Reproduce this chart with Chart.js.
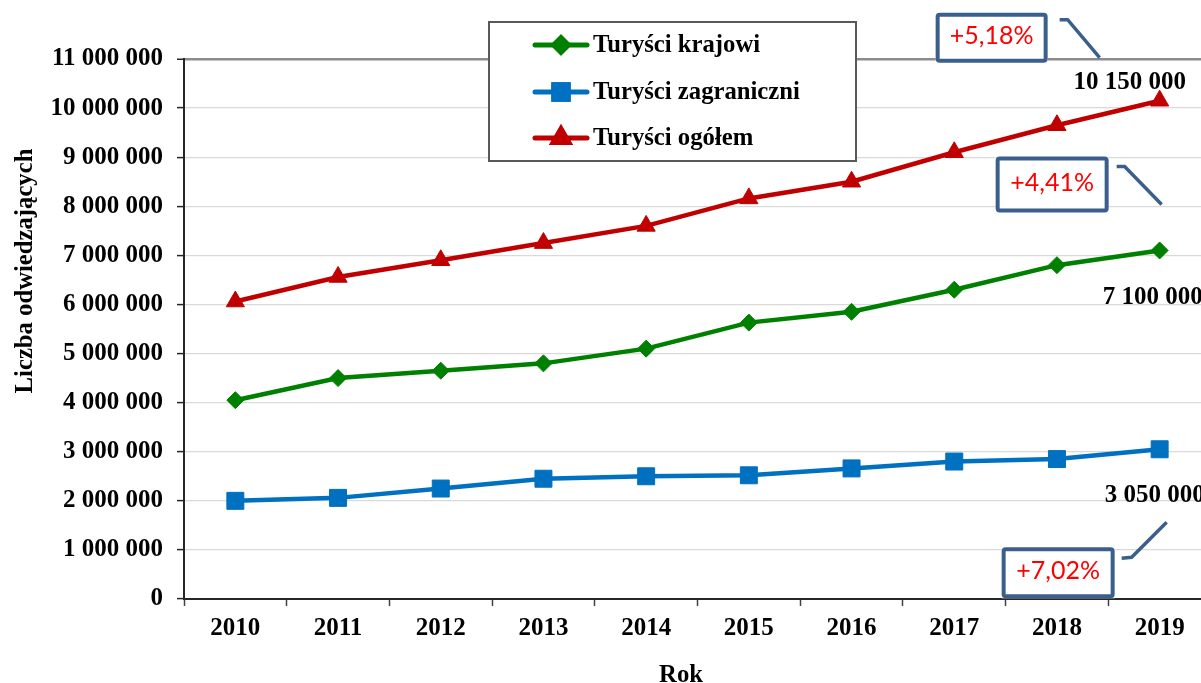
<!DOCTYPE html>
<html><head><meta charset="utf-8">
<script src="https://cdn.jsdelivr.net/npm/chart.js@4.4.1/dist/chart.umd.min.js"></script>
<style>html,body{margin:0;padding:0;overflow:hidden;background:#fff;width:1201px;height:683px}canvas{display:block}</style>
</head><body><canvas id="c" width="1230" height="683" style="width:1230px;height:683px"></canvas>
<script>
const years = ['2010','2011','2012','2013','2014','2015','2016','2017','2018','2019'];
const krajowi = [4050000,4500000,4650000,4800000,5100000,5630000,5850000,6300000,6800000,7100000];
const zagraniczni = [2000000,2060000,2250000,2450000,2500000,2520000,2660000,2800000,2850000,3050000];
const ogolem = [6060000,6560000,6900000,7250000,7600000,8160000,8500000,9100000,9650000,10150000];
const yTickValues = [0,1000000,2000000,3000000,4000000,5000000,6000000,7000000,8000000,9000000,10000000,11000000];
const seriesNames = ['Turyści krajowi','Turyści zagraniczni','Turyści ogółem'];
const growthLabels = ['+4,41%','+7,02%','+5,18%'];
const xTitle = 'Rok';
const yTitle = 'Liczba odwiedzających';

const fmt = v => String(Math.round(v)).replace(/\B(?=(\d{3})+(?!\d))/g, ' ');
const SERIF = '"Liberation Serif","Times New Roman",serif';
const COLORS = ['#008000','#0070c0','#c00000'];
const STYLES = ['rectRot','rect','triangle'];
const RADII = [8.5,12,10.5];

// callout placement relative to last point of each series (style only)
const callouts = [
  {box:[-164,-94,113,56], line:[[-43,-84],[-35,-84],[2,-46]], lbl:[-7,47]},
  {box:[-158,98,113,51], line:[[-38,109],[-28,108],[7,73]], lbl:[-5,46]},
  {box:[-224,-88,112,50], line:[[-100,-81],[-92,-81],[-60,-43]], lbl:[-30,-18]}
];

const overlay = {
  id:'overlay',
  afterDraw(chart){
    const ctx = chart.ctx;
    ctx.save();
    // Legend box
    ctx.fillStyle = '#fff';
    ctx.fillRect(488,21,369,141);
    ctx.strokeStyle = '#595959'; ctx.lineWidth = 2;
    ctx.strokeRect(489,22,367,139);
    const rows = [45,92,138];
    chart.data.datasets.forEach((ds,i)=>{
      const y = rows[i];
      ctx.strokeStyle = ds.borderColor; ctx.lineWidth = 5; ctx.lineCap='round';
      ctx.beginPath(); ctx.moveTo(535,y); ctx.lineTo(587,y); ctx.stroke();
      Chart.helpers.drawPoint(ctx,{pointStyle:ds.pointStyle,rotation:0,borderWidth:1,radius:ds.pointRadius*0.85},561,y);
      ctx.fillStyle = ds.borderColor; ctx.strokeStyle = ds.borderColor;
      ctx.beginPath();
      Chart.helpers.drawPoint(ctx,{pointStyle:ds.pointStyle,rotation:0,borderWidth:1,radius:ds.pointRadius*0.85},561,y);
      ctx.fillStyle = '#000'; ctx.font = 'bold 24.7px '+SERIF;
      ctx.textAlign='left'; ctx.textBaseline='middle';
      ctx.fillText(ds.label,593,y+1);
    });
    // Axis titles
    ctx.fillStyle='#000'; ctx.font='bold 24.7px '+SERIF;
    ctx.textAlign='center'; ctx.textBaseline='alphabetic';
    ctx.fillText(xTitle,681,682);
    ctx.save(); ctx.translate(32,271); ctx.rotate(-Math.PI/2);
    ctx.fillText(yTitle,0,0); ctx.restore();
    // Callouts and value labels
    chart.data.datasets.forEach((ds,i)=>{
      const meta = chart.getDatasetMeta(i);
      const last = meta.data[meta.data.length-1];
      const px = last.x, py = last.y, c = callouts[i];
      const val = ds.data[ds.data.length-1];
      ctx.fillStyle='#000'; ctx.font='bold 25px '+SERIF;
      ctx.textAlign='center'; ctx.textBaseline='middle';
      ctx.fillText(fmt(val), px+c.lbl[0], py+c.lbl[1]);
      const [bx,by,bw,bh] = c.box;
      const L = px+bx, T = py+by;
      ctx.fillStyle='#fff'; ctx.fillRect(L,T,bw,bh);
      ctx.strokeStyle='#3b5f8c'; ctx.lineWidth=4; ctx.lineJoin='round'; ctx.lineCap='butt';
      ctx.beginPath(); ctx.roundRect(L+2,T+2,bw-4,bh-4,2); ctx.stroke();
      ctx.fillStyle='#ff0000'; ctx.font='25px Lato, "Liberation Sans", sans-serif';
      ctx.fillText(growthLabels[i], L+bw/2, T+bh/2-2);
      ctx.strokeStyle='#3b5f8c'; ctx.lineWidth=3.5; ctx.lineJoin='miter';
      ctx.beginPath();
      c.line.forEach((p,k)=>{ if(k===0) ctx.moveTo(px+p[0],py+p[1]); else ctx.lineTo(px+p[0],py+p[1]); });
      ctx.stroke();
    });
    ctx.restore();
  }
};

const mk = (i,data) => ({
  label: seriesNames[i], data,
  borderColor: COLORS[i], backgroundColor: COLORS[i],
  pointBackgroundColor: COLORS[i], pointBorderColor: COLORS[i],
  borderWidth: 4.5, pointStyle: STYLES[i], pointRadius: RADII[i], pointBorderWidth: 1,
  tension: 0, clip: false
});

new Chart(document.getElementById('c'), {
  type:'line',
  data:{ labels: years, datasets:[ mk(0,krajowi), mk(1,zagraniczni), mk(2,ogolem) ] },
  options:{
    responsive:false, animation:false,
    layout:{ padding:{ left:0, right:19, top:59, bottom:0 } },
    plugins:{ legend:{display:false}, tooltip:{enabled:false} },
    scales:{
      x:{
        offset:true,
        grid:{ offset:true, drawOnChartArea:false, tickLength:7, tickColor:'#404040', tickWidth:1.5 },
        border:{ color:'#262626', width:2 },
        ticks:{ color:'#000', font:{family:SERIF, weight:'bold', size:25}, padding:8, maxRotation:0, autoSkip:false },
        afterFit(s){ s.height = 84; }
      },
      y:{
        min: yTickValues[0], max: yTickValues[yTickValues.length-1],
        afterBuildTicks(s){ s.ticks = yTickValues.map(v=>({value:v})); },
        grid:{
          color: c => c.tick && c.tick.value === yTickValues[yTickValues.length-1] ? '#8c8c8c' : '#d9d9d9',
          lineWidth: c => c.tick && c.tick.value === yTickValues[yTickValues.length-1] ? 2.5 : 1.2,
          tickLength:7, tickColor:'#262626', tickWidth:1.5
        },
        border:{ color:'#262626', width:2 },
        ticks:{ color:'#000', font:{family:SERIF, weight:'bold', size:25}, padding:14, callback: v => fmt(v) },
        afterFit(s){ s.width = 184; }
      }
    }
  },
  plugins:[overlay]
});
</script></body></html>
